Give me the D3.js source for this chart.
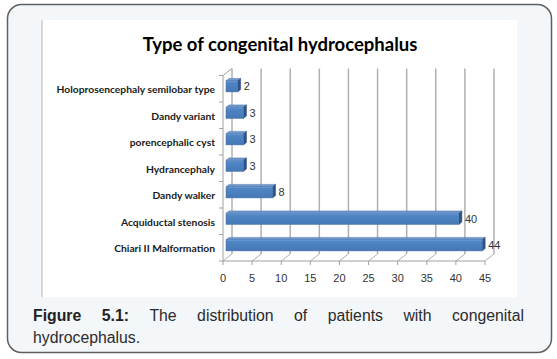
<!DOCTYPE html>
<html><head><meta charset="utf-8">
<script src="https://cdn.jsdelivr.net/npm/d3@7"></script>
<style>
html,body{margin:0;padding:0;background:#fff;}
svg{display:block;}
</style></head>
<body><svg id="chart" width="557" height="359"></svg>
<script>
const title = "Type of congenital hydrocephalus";
const categories = ["Holoprosencephaly semilobar type","Dandy variant","porencephalic cyst","Hydrancephaly","Dandy walker","Acquiductal stenosis","Chiari II Malformation"];
const values = [2,3,3,3,8,40,44];
const tickValues = [0,5,10,15,20,25,30,35,40,45];
const captionLine1 = [["Figure",true],["5.1:",true],["The",false],["distribution",false],["of",false],["patients",false],["with",false],["congenital",false]];
const captionLine2 = "hydrocephalus.";

const svg = d3.select("#chart");
svg.append("rect").attr("x",7.5).attr("y",4.5).attr("width",544).attr("height",348).attr("rx",14)
  .attr("fill","#f3f7fa").attr("stroke","#5f5f5f").attr("stroke-width",1.5);
svg.append("rect").attr("x",42).attr("y",20).attr("width",475).attr("height",277).attr("fill","#fff");
svg.append("line").attr("x1",42).attr("x2",42).attr("y1",20).attr("y2",297).attr("stroke","#b5b5b5");

svg.append("text").attr("x",280).attr("y",51).attr("text-anchor","middle")
  .attr("font-family","Lato, 'Open Sans', sans-serif").attr("font-weight","bold").attr("font-size",18.5)
  .attr("fill","#000").text(title);

const x = d3.scaleLinear().domain([0,45]).range([223,485]);
const y = d3.scaleBand().domain(categories).range([75.5,261]).paddingInner(0.58).paddingOuter(0.29);
const D = [9,-7];
const yTop = 75.5, yBot = 261;
const g = svg.append("g");
const gridCol = "#b0b0b0";
tickValues.forEach(v=>{
  g.append("line").attr("x1",x(v)+D[0]).attr("x2",x(v)+D[0]).attr("y1",yTop+D[1]).attr("y2",yBot+D[1])
    .attr("stroke",gridCol).attr("stroke-width",1.5);
  g.append("line").attr("x1",x(v)).attr("x2",x(v)+D[0]).attr("y1",yBot).attr("y2",yBot+D[1])
    .attr("stroke",gridCol).attr("stroke-width",1);
});
g.append("line").attr("x1",x(0)).attr("x2",x(0)).attr("y1",yTop).attr("y2",yBot).attr("stroke","#a0a0a0");
g.append("line").attr("x1",x(0)).attr("x2",x(0)+D[0]).attr("y1",yTop).attr("y2",yTop+D[1]).attr("stroke","#a0a0a0");
g.append("line").attr("x1",x(0)).attr("x2",x(45)).attr("y1",yBot).attr("y2",yBot).attr("stroke","#a0a0a0");
tickValues.forEach(v=>{
  g.append("line").attr("x1",x(v)).attr("x2",x(v)).attr("y1",yBot).attr("y2",yBot+4).attr("stroke","#a0a0a0");
  g.append("text").attr("x",x(v)).attr("y",yBot+21).attr("text-anchor","middle")
   .attr("font-family","'Liberation Sans',Arial,sans-serif").attr("font-size",11).attr("fill","#333").text(v);
});
const bw = (yBot-yTop)/categories.length;
d3.range(categories.length+1).forEach(i=>{
  const yy = yTop + i*bw;
  g.append("line").attr("x1",x(0)-4).attr("x2",x(0)).attr("y1",yy).attr("y2",yy).attr("stroke","#a0a0a0");
});
categories.forEach((c,i)=>{
  g.append("text").attr("x",215).attr("y",yTop + (i+0.5)*bw + 4.5).attr("text-anchor","end")
   .attr("font-family","Lato, sans-serif").attr("font-weight","bold").attr("font-size",10.3).attr("fill","#1a1a1a").text(c);
});
const defs = svg.append("defs");
const gr = defs.append("linearGradient").attr("id","bf").attr("x1",0).attr("x2",0).attr("y1",0).attr("y2",1);
gr.append("stop").attr("offset","0").attr("stop-color","#7aa3d6");
gr.append("stop").attr("offset","0.15").attr("stop-color","#5086c6");
gr.append("stop").attr("offset","1").attr("stop-color","#4577b4");
const off = [3,-2.4], dep=[3,-2.4];
categories.forEach((c,i)=>{
  const v = values[i];
  const x0 = x(0)+off[0], x1 = x(v)+off[0];
  const yt = y(c)+off[1], yb = yt + y.bandwidth();
  g.append("polygon").attr("points",[[x0,yt],[x1,yt],[x1+dep[0],yt+dep[1]],[x0+dep[0],yt+dep[1]]].join(" "))
    .attr("fill","#6f99cf").attr("stroke","#4a73a8").attr("stroke-width",0.5);
  g.append("polygon").attr("points",[[x1,yt],[x1+dep[0],yt+dep[1]],[x1+dep[0],yb+dep[1]],[x1,yb]].join(" "))
    .attr("fill","#2e5385").attr("stroke","#2a4a78").attr("stroke-width",0.5);
  g.append("rect").attr("x",x0).attr("y",yt).attr("width",x1-x0).attr("height",yb-yt)
    .attr("fill","url(#bf)").attr("stroke","#4271ad").attr("stroke-width",0.5);
  g.append("text").attr("x",x1+6).attr("y",(yt+yb)/2+4).attr("font-family","'Liberation Sans',Arial,sans-serif")
    .attr("font-size",11).attr("fill","#333").text(v);
});
// caption, justified line 1
const capX0 = 33, capX1 = 524, capFs = 15.8;
const cg = svg.append("g").attr("font-family","'Liberation Sans',Arial,sans-serif").attr("font-size",capFs);
const words = captionLine1.map(([w,b])=>cg.append("text").attr("y",321).attr("font-weight",b?"bold":"normal")
   .attr("fill",b?"#222":"#2b2b2b").text(w));
const widths = words.map(t=>t.node().getComputedTextLength());
const gap = (capX1-capX0 - d3.sum(widths))/(words.length-1);
let cx = capX0;
words.forEach((t,i)=>{ t.attr("x",cx); cx += widths[i]+gap; });
cg.append("text").attr("x",capX0).attr("y",342.5).attr("fill","#2b2b2b").text(captionLine2);
</script></body></html>
